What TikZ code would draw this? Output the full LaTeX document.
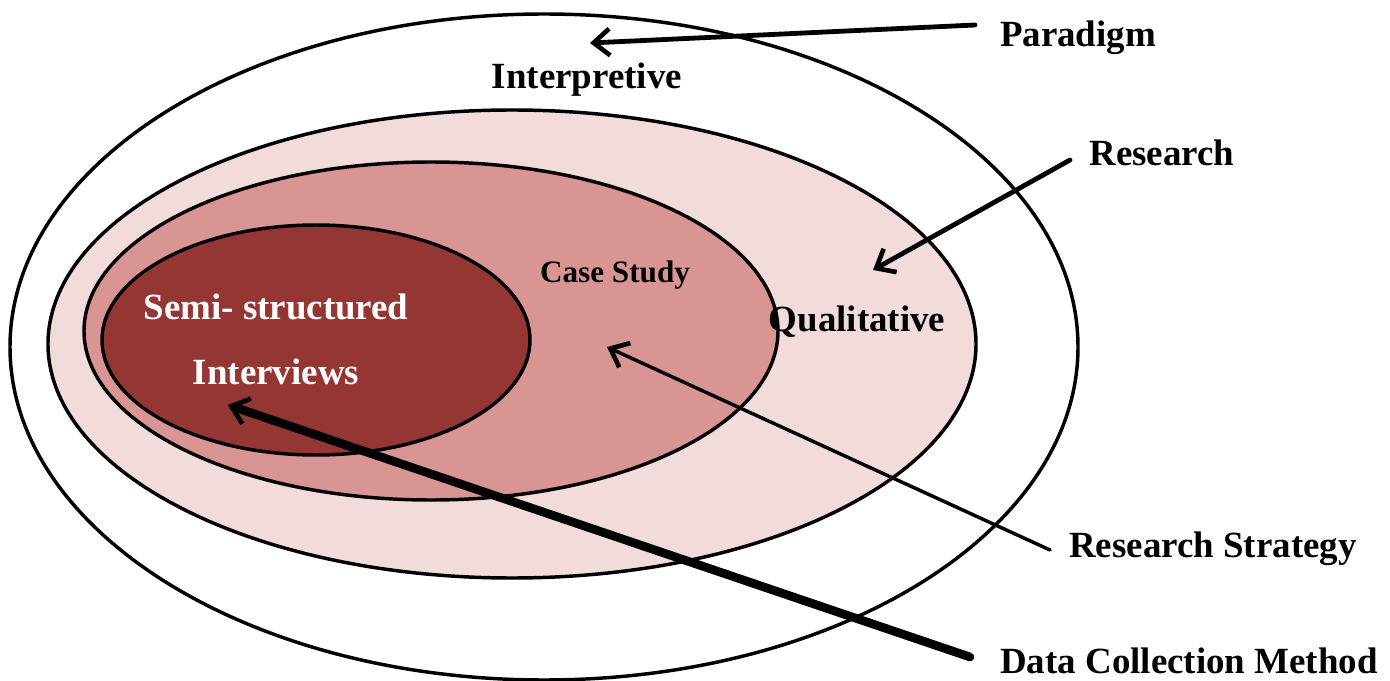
\documentclass[tikz,border=0pt]{standalone}
\usepackage{fontspec}
\setmainfont{Liberation Serif}
\usetikzlibrary{arrows.meta}
\definecolor{pinkA}{HTML}{F2DCDB}
\definecolor{pinkB}{HTML}{D99594}
\definecolor{pinkC}{HTML}{943634}
\begin{document}
\begin{tikzpicture}[x=0.75pt,y=-0.75pt,
  ring/.style={draw=black,line width=2.6pt},
  lbl/.style={font=\bfseries\fontsize{27.7}{30}\selectfont,inner sep=0pt},
  arr/.style={draw=black,-{Straight Barb[length=12pt,width=20pt,line width=3.5pt]},line cap=round}]
\useasboundingbox (0,0) rectangle (1390,681);
\fill[white] (0,0) rectangle (1390,681);
\draw[ring,fill=white] (544,347) ellipse [x radius=534, y radius=333];
\draw[ring,fill=pinkA] (512,344) ellipse [x radius=464, y radius=234];
\draw[ring,fill=pinkB] (431,331) ellipse [x radius=347, y radius=169];
\draw[ring,fill=pinkC] (316,340) ellipse [x radius=214, y radius=115];
\node[lbl] (paradigm) at (1078,38) {Paradigm};
\node[lbl] (interp) at (587,80) {Interpretive};
\node[lbl] (research) at (1162,153) {Research};
\node[lbl] (qual) at (857,322) {Qualitative};
\node[lbl,font=\bfseries\fontsize{23.4}{26}\selectfont] (case) at (615,275) {Case Study};
\node[lbl,text=white] (semi) at (276,307) {Semi- structured};
\node[lbl,text=white] (interv) at (276,372) {Interviews};
\node[lbl] (strategy) at (1213,549) {Research Strategy};
\node[lbl] (dcm) at (1189,661) {Data Collection Method};
\coordinate (p1) at (975,25);
\coordinate (p2) at (590,43);
\coordinate (r1) at (1070,160);
\coordinate (r2) at (873,270);
\coordinate (s1) at (1050,550);
\coordinate (s2) at (607,347);
\coordinate (d1) at (970,657);
\coordinate (d2) at (228,405);
\draw[arr,line width=3.6pt] (p1) -- (p2);
\draw[arr,line width=3.6pt] (r1) -- (r2);
\draw[arr,line width=2.6pt] (s1) -- (s2);
\draw[arr,line width=6.5pt] (d1) -- (d2);
\end{tikzpicture}
\end{document}
